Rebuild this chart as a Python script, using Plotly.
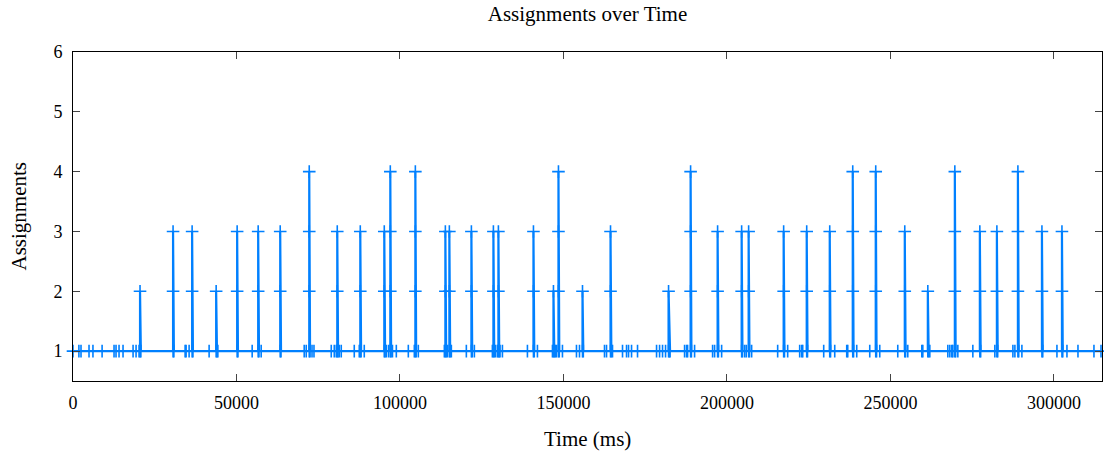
import plotly.graph_objects as go

# Time (ms) of each sample, and the assignment count at that time
times_ms = [
    0, 1800, 2450, 4900, 6100, 8900, 12550, 13160, 14080, 15300, 18370, 19290, 20200,
    20500, 20500, 20750,
    30600, 30600, 30600, 30850,
    34290, 34590, 35510,
    36430, 36430, 36430, 36680,
    41630,
    43780, 43780, 44030,
    44300,
    50200, 50200, 50200, 50450,
    54800,
    56630, 56630, 56630, 56880,
    57550,
    63370, 63370, 63370, 63620,
    70710, 71330,
    72250, 72250, 72250, 72250, 72500,
    73100, 73700,
    78980, 79900, 80510,
    80820, 80820, 80820, 81070,
    81430, 82040, 86020, 87550,
    87860, 87860, 87860, 88110,
    89080,
    95200, 95200, 95200, 95450,
    95820, 96500,
    97040, 97040, 97040, 97040, 97290,
    97700, 98880, 102550, 104390,
    104700, 104700, 104700, 104700, 104950,
    105610, 113570,
    113880, 113880, 113880, 114130,
    114500,
    115100, 115100, 115100, 115350,
    115710, 120300,
    121840, 121840, 121840, 122090,
    122750, 128260,
    128570, 128570, 128570, 128820,
    129200, 129800,
    130100, 130100, 130100, 130350,
    130600, 131330, 138980,
    140820, 140820, 140820, 141070,
    142040, 146630,
    146940, 146940, 147190,
    147500, 147860,
    148470, 148470, 148470, 148470, 148720,
    149690, 153980, 154900,
    155820, 155820, 156070,
    162550, 163170,
    164390, 164390, 164390, 164640,
    165000, 168060, 169290, 169900, 170820, 172650, 178470, 179390, 180300, 181220,
    182140, 182140, 182390,
    182600, 187040, 187650, 187960,
    188880, 188880, 188880, 188880, 189130,
    190100, 195610, 196220,
    197140, 197140, 197140, 197390,
    198370,
    204490, 204490, 204490, 204740,
    205410, 205900,
    206630, 206630, 206630, 206880,
    207550, 215510,
    217340, 217340, 217340, 217590,
    218570, 222240, 222860, 223170,
    224390, 224390, 224390, 224640,
    229590,
    231430, 231430, 231430, 231680,
    232960, 236630, 236940,
    238470, 238470, 238470, 238470, 238720,
    239690, 243670,
    245500, 245500, 245500, 245500, 245750,
    246730, 252240,
    254380, 254380, 254380, 254630,
    255300, 259590, 259900,
    261430, 261430, 261680,
    262040, 267550, 268160, 268770, 269080,
    269690, 269690, 269690, 269690, 269940,
    270610, 275200,
    277340, 277340, 277340, 277590,
    281930,
    282550, 282550, 282550, 282800,
    287450, 288060,
    288980, 288980, 288980, 288980, 289230,
    290200,
    296330, 296330, 296330, 296580,
    300920,
    302450, 302450, 302450, 302700,
    303980, 307350, 312240, 314400,
]

assignments = [
    1, 1, 1, 1, 1, 1, 1, 1, 1, 1, 1, 1, 1,
    1, 2, 1,
    1, 2, 3, 1,
    1, 1, 1,
    1, 2, 3, 1,
    1,
    1, 2, 1,
    1,
    1, 2, 3, 1,
    1,
    1, 2, 3, 1,
    1,
    1, 2, 3, 1,
    1, 1,
    1, 2, 3, 4, 1,
    1, 1,
    1, 1, 1,
    1, 2, 3, 1,
    1, 1, 1, 1,
    1, 2, 3, 1,
    1,
    1, 2, 3, 1,
    1, 1,
    1, 2, 3, 4, 1,
    1, 1, 1, 1,
    1, 2, 3, 4, 1,
    1, 1,
    1, 2, 3, 1,
    1,
    1, 2, 3, 1,
    1, 1,
    1, 2, 3, 1,
    1, 1,
    1, 2, 3, 1,
    1, 1,
    1, 2, 3, 1,
    1, 1, 1,
    1, 2, 3, 1,
    1, 1,
    1, 2, 1,
    1, 1,
    1, 2, 3, 4, 1,
    1, 1, 1,
    1, 2, 1,
    1, 1,
    1, 2, 3, 1,
    1, 1, 1, 1, 1, 1, 1, 1, 1, 1,
    1, 2, 1,
    1, 1, 1, 1,
    1, 2, 3, 4, 1,
    1, 1, 1,
    1, 2, 3, 1,
    1,
    1, 2, 3, 1,
    1, 1,
    1, 2, 3, 1,
    1, 1,
    1, 2, 3, 1,
    1, 1, 1, 1,
    1, 2, 3, 1,
    1,
    1, 2, 3, 1,
    1, 1, 1,
    1, 2, 3, 4, 1,
    1, 1,
    1, 2, 3, 4, 1,
    1, 1,
    1, 2, 3, 1,
    1, 1, 1,
    1, 2, 1,
    1, 1, 1, 1, 1,
    1, 2, 3, 4, 1,
    1, 1,
    1, 2, 3, 1,
    1,
    1, 2, 3, 1,
    1, 1,
    1, 2, 3, 4, 1,
    1,
    1, 2, 3, 1,
    1,
    1, 2, 3, 1,
    1, 1, 1, 1,
]

assert len(times_ms) == len(assignments)

x_ticks = [0, 50000, 100000, 150000, 200000, 250000, 300000]
y_ticks = [1, 2, 3, 4, 5, 6]

FONT = "Liberation Serif, Times New Roman, serif"
BLUE = "rgb(0,128,255)"

fig = go.Figure()
fig.add_trace(go.Scatter(
    x=times_ms, y=assignments,
    mode="lines+markers",
    line=dict(color=BLUE, width=2.2),
    marker=dict(symbol="cross-thin", size=9, color=BLUE,
                line=dict(color=BLUE, width=1.6)),
    cliponaxis=False,
    showlegend=False,
))

axis_common = dict(
    showgrid=False, zeroline=False,
    showline=True, linecolor="black", linewidth=1, mirror="ticks",
    ticks="inside", ticklen=7, tickcolor="#444", tickwidth=1,
    tickfont=dict(family=FONT, size=18, color="black"),
)

fig.update_xaxes(range=[0, 314700], tickvals=x_ticks,
                 ticktext=[str(v) for v in x_ticks],
                 ticklabelstandoff=5, **axis_common)
fig.update_yaxes(range=[0.5, 6], tickvals=y_ticks,
                 ticktext=[str(v) for v in y_ticks],
                 ticklabelstandoff=6, **axis_common)

fig.update_layout(
    width=1104, height=457,
    margin=dict(l=73, r=2, t=52, b=76),
    paper_bgcolor="white", plot_bgcolor="white",
    font=dict(family=FONT, size=18, color="black"),
    title=dict(text="Assignments over Time", x=0.5, xref="paper",
               y=1 - 14 / 457, yref="container", yanchor="middle",
               font=dict(family=FONT, size=21, color="black")),
    annotations=[
        dict(text="Time (ms)", xref="paper", yref="paper", x=0.5,
             y=(381 - 439) / 329, xanchor="center", yanchor="middle",
             showarrow=False, font=dict(family=FONT, size=21, color="black")),
        dict(text="Assignments", xref="paper", yref="paper",
             x=(18 - 73) / 1029, y=0.5, xanchor="center", yanchor="middle",
             textangle=-90, showarrow=False,
             font=dict(family=FONT, size=21, color="black")),
    ],
)

fig.write_html("out.html",
               config={"displayModeBar": False},
               post_script="document.body.style.margin='0';"
                           "document.body.style.overflow='hidden';")
